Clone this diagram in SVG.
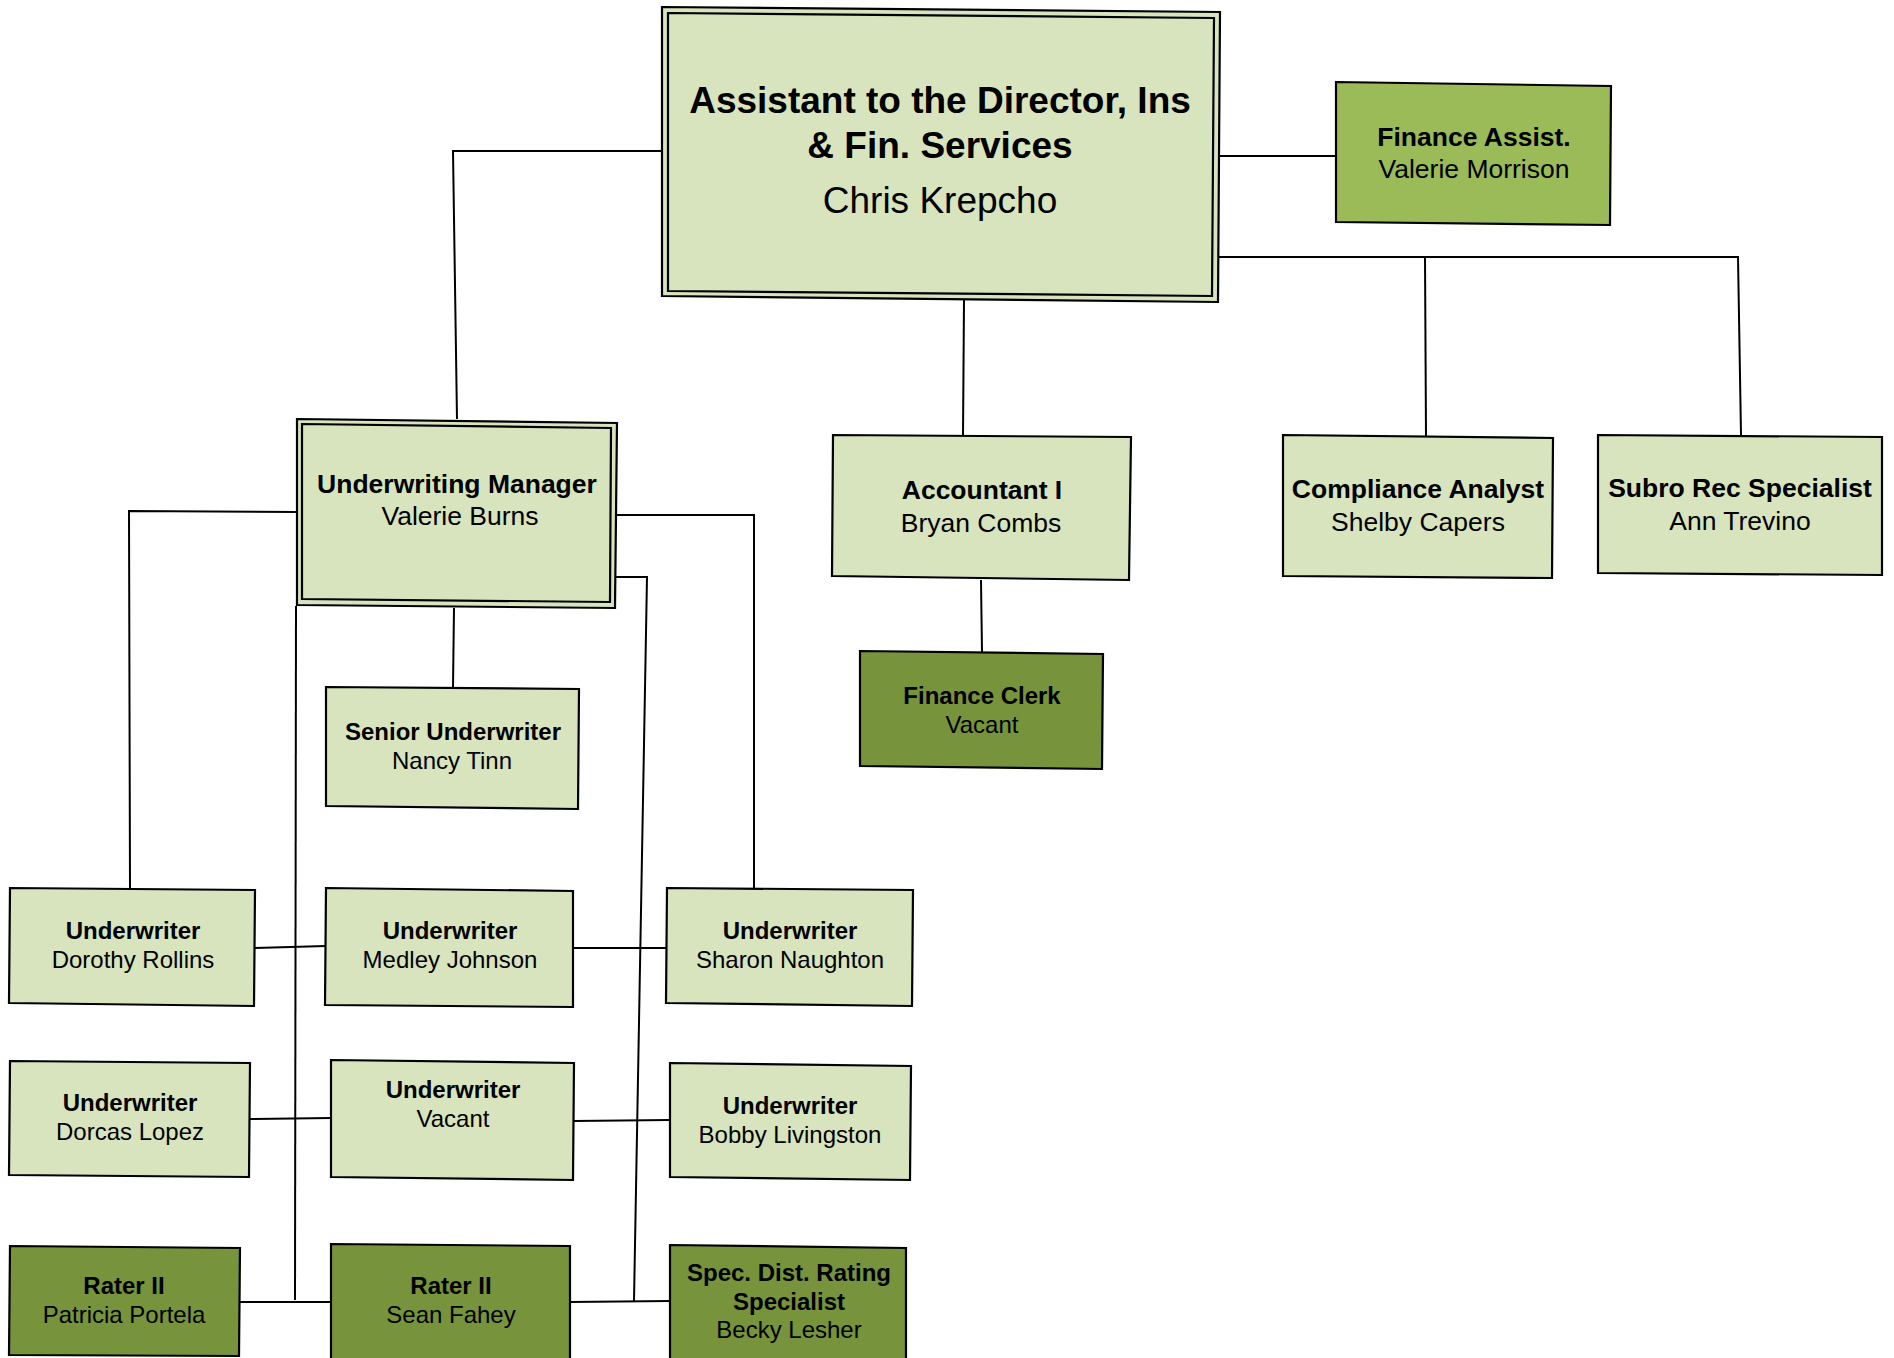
<svg xmlns="http://www.w3.org/2000/svg" width="1894" height="1358" viewBox="0 0 1894 1358">
<style>
.box{stroke:#000;stroke-width:2.2;stroke-linejoin:miter}
.light{fill:#d7e4bd}
.mid{fill:#9bbb59}
.dark{fill:#77933c}
.inner{fill:none;stroke:#000;stroke-width:2.2}
.ln{fill:none;stroke:#000;stroke-width:2}
text{font-family:"Liberation Sans",Arial,sans-serif;text-anchor:middle;fill:#000}
.t1{font-size:26.5px;font-weight:bold}
.n1{font-size:26.5px}
.t2{font-size:24px;font-weight:bold}
.n2{font-size:24px}
.t0{font-size:37px;font-weight:bold}
.n0{font-size:37px}
</style>
<rect width="1894" height="1358" fill="#fff"/>
<g id="connectors">
<polyline class="ln" points="662,151 453,151 457,419"/>
<polyline class="ln" points="1220,156 1340,156"/>
<polyline class="ln" points="1214,257 1738,257 1741,435"/>
<polyline class="ln" points="1425,257 1426,436"/>
<polyline class="ln" points="964,300 963,435"/>
<polyline class="ln" points="981,580 982,652"/>
<polyline class="ln" points="297,512 129,511 130,888"/>
<polyline class="ln" points="296,606 295,1300"/>
<polyline class="ln" points="454,608 453,687"/>
<polyline class="ln" points="617,515 754,515 754,894"/>
<polyline class="ln" points="610,577 647,577 634,1301"/>
<polyline class="ln" points="255,948 326,946"/>
<polyline class="ln" points="573,948 667,948"/>
<polyline class="ln" points="250,1119 331,1118"/>
<polyline class="ln" points="574,1121 670,1120"/>
<polyline class="ln" points="240,1302 331,1302"/>
<polyline class="ln" points="570,1302 670,1301"/>
</g>
<g id="director">
<polygon class="box light" points="662,7 1220,12 1218,302 662,296"/>
<polygon class="inner" points="668,13 1214,18 1212,296 668,291"/>
<text class="t0" x="940" y="113">Assistant to the Director, Ins</text>
<text class="t0" x="940" y="158">&amp; Fin. Services</text>
<text class="n0" x="940" y="213">Chris Krepcho</text>
</g>
<g id="finance-assist">
<polygon class="box mid" points="1336,82 1611,86 1610,225 1336,222"/>
<text class="t1" x="1474" y="146">Finance Assist.</text>
<text class="n1" x="1474" y="178">Valerie Morrison</text>
</g>
<g id="accountant">
<polygon class="box light" points="833,435 1131,437 1129,580 832,576"/>
<text class="t1" x="982" y="499">Accountant I</text>
<text class="n1" x="981" y="532">Bryan Combs</text>
</g>
<g id="compliance">
<polygon class="box light" points="1283,435 1553,438 1552,578 1283,576"/>
<text class="t1" x="1418" y="498">Compliance Analyst</text>
<text class="n1" x="1418" y="531">Shelby Capers</text>
</g>
<g id="subro">
<polygon class="box light" points="1598,435 1882,437 1882,575 1598,573"/>
<text class="t1" x="1740" y="497">Subro Rec Specialist</text>
<text class="n1" x="1740" y="530">Ann Trevino</text>
</g>
<g id="finance-clerk">
<polygon class="box dark" points="860,651 1103,654 1102,769 860,766"/>
<text class="t2" x="982" y="704">Finance Clerk</text>
<text class="n2" x="982" y="733">Vacant</text>
</g>
<g id="uw-manager">
<polygon class="box light" points="297,419 617,423 615,608 297,605"/>
<polygon class="inner" points="302,424 611,428 610,602 302,599"/>
<text class="t1" x="457" y="493">Underwriting Manager</text>
<text class="n1" x="460" y="525">Valerie Burns</text>
</g>
<g id="senior-uw">
<polygon class="box light" points="326,687 579,689 578,809 326,806"/>
<text class="t2" x="453" y="740">Senior Underwriter</text>
<text class="n2" x="452" y="769">Nancy Tinn</text>
</g>
<g id="uw-rollins">
<polygon class="box light" points="10,888 255,890 254,1006 9,1003"/>
<text class="t2" x="133" y="939">Underwriter</text>
<text class="n2" x="133" y="968">Dorothy Rollins</text>
</g>
<g id="uw-johnson">
<polygon class="box light" points="326,888 573,891 573,1007 325,1005"/>
<text class="t2" x="450" y="939">Underwriter</text>
<text class="n2" x="450" y="968">Medley Johnson</text>
</g>
<g id="uw-naughton">
<polygon class="box light" points="667,888 913,890 912,1006 666,1003"/>
<text class="t2" x="790" y="939">Underwriter</text>
<text class="n2" x="790" y="968">Sharon Naughton</text>
</g>
<g id="uw-lopez">
<polygon class="box light" points="10,1061 250,1063 249,1177 9,1175"/>
<text class="t2" x="130" y="1111">Underwriter</text>
<text class="n2" x="130" y="1140">Dorcas Lopez</text>
</g>
<g id="uw-vacant">
<polygon class="box light" points="331,1060 574,1063 573,1180 331,1177"/>
<text class="t2" x="453" y="1098">Underwriter</text>
<text class="n2" x="453" y="1127">Vacant</text>
</g>
<g id="uw-livingston">
<polygon class="box light" points="670,1063 911,1066 910,1180 670,1177"/>
<text class="t2" x="790" y="1114">Underwriter</text>
<text class="n2" x="790" y="1143">Bobby Livingston</text>
</g>
<g id="rater-portela">
<polygon class="box dark" points="10,1246 240,1248 239,1356 9,1355"/>
<text class="t2" x="124" y="1294">Rater II</text>
<text class="n2" x="124" y="1323">Patricia Portela</text>
</g>
<g id="rater-fahey">
<polygon class="box dark" points="331,1244 570,1246 570,1360 331,1360"/>
<text class="t2" x="451" y="1294">Rater II</text>
<text class="n2" x="451" y="1323">Sean Fahey</text>
</g>
<g id="spec-rating">
<polygon class="box dark" points="670,1245 906,1248 906,1360 670,1360"/>
<text class="t2" x="789" y="1281">Spec. Dist. Rating</text>
<text class="t2" x="789" y="1310">Specialist</text>
<text class="n2" x="789" y="1338">Becky Lesher</text>
</g>
</svg>
